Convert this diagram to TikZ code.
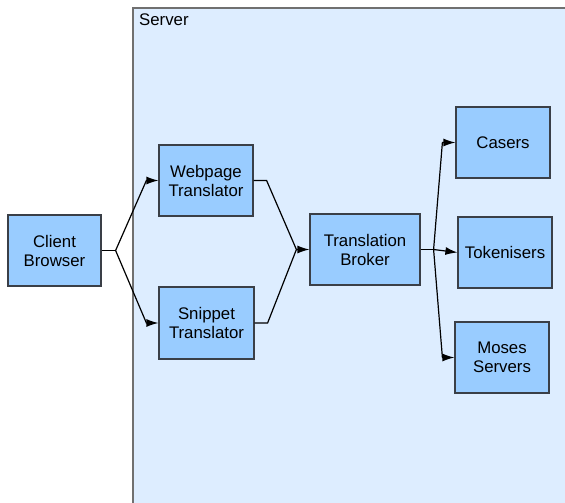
\documentclass[tikz,border=0pt]{standalone}
\usepackage{fontspec}
\setmainfont{Liberation Sans}
\usetikzlibrary{arrows.meta, positioning, calc}
\definecolor{boxblue}{HTML}{99CCFF}
\definecolor{serverblue}{HTML}{DDEDFF}
\definecolor{serverline}{HTML}{707070}
\definecolor{boxline}{HTML}{3A3F47}

\begin{document}
\begin{tikzpicture}[
        x=1pt, y=-1pt,
        font=\fontsize{16.8}{19}\selectfont,
        >={Latex[width=8pt,length=12pt]},
        base/.style={draw=boxline, line width=1.2pt, align=center, fill=boxblue, inner sep=0pt},
        process/.style={base, rectangle, minimum width=94pt, minimum height=71pt},
        arrow/.style={->, line width=1.2pt, color=black},
        link/.style={line width=1.2pt, color=black}
    ]

    \useasboundingbox (0,0) rectangle (565,503);
    \clip (0,0) rectangle (565,503);

    % Server area
    \draw[fill=serverblue, draw=serverline, line width=1.2pt] (133,8) rectangle (600,540);
    \node[anchor=base west, inner sep=0pt] (serverlabel) at (139,26) {Server};

    % Nodes
    \node[process, minimum width=93pt] (client) at (54.5,250.5) {Client\\Browser};
    \node[process] (webpage) at (206,180.5) {Webpage\\Translator};
    \node[process, minimum width=95pt, minimum height=72pt] (snippet) at (206.5,323) {Snippet\\Translator};
    \node[process, minimum width=110pt] (broker) at (365,249.5) {Translation\\Broker};
    \node[process] (casers) at (503,142.5) {Casers};
    \node[process] (tokenisers) at (505,252.5) {Tokenisers};
    \node[process] (moses) at (502,357.5) {Moses\\Servers};

    % Branch points
    \coordinate (split) at ([xshift=14pt]client.east);
    \coordinate (merge) at ([xshift=-13pt]broker.west);
    \coordinate (fan) at ([xshift=13pt]broker.east);

    % Arrows
    \draw[link] (client.east) -- (split);
    \draw[arrow] (split) -- ([xshift=-12pt]webpage.west) -- (webpage.west);
    \draw[arrow] (split) -- ([xshift=-12pt]snippet.west) -- (snippet.west);
    \draw[link] (webpage.east) -- ([xshift=13pt]webpage.east) -- (merge);
    \draw[link] (snippet.east) -- ([xshift=13pt]snippet.east) -- (merge);
    \draw[arrow] (merge) -- (broker.west);
    \draw[link] (broker.east) -- (fan);
    \draw[arrow] (fan) -- ([xshift=-13pt]casers.west) -- (casers.west);
    \draw[arrow] (fan) -- (tokenisers.west);
    \draw[arrow] (fan) -- ([xshift=-12pt]moses.west) -- (moses.west);

    \end{tikzpicture}
\end{document}
